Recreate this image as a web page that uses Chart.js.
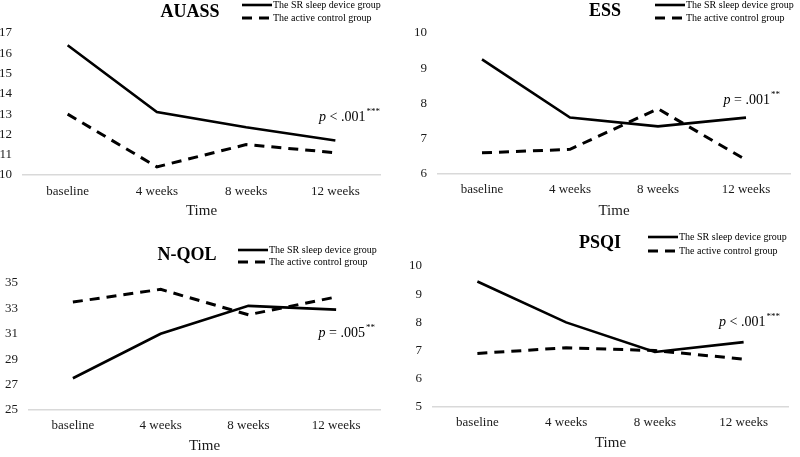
<!DOCTYPE html>
<html><head><meta charset="utf-8">
<script src="https://cdn.jsdelivr.net/npm/chart.js@4/dist/chart.umd.min.js"></script>
<style>
html,body{margin:0;padding:0;background:#fff;}
#wrap{position:relative;width:800px;height:457px;overflow:hidden;background:#fff;}
.panel{position:absolute;}
canvas{display:block;}
</style></head><body>
<div id="wrap">
<div class="panel" style="left:0;top:0;"><canvas id="c1" width="400" height="228" style="width:400px;height:228px"></canvas></div>
<div class="panel" style="left:400px;top:0;"><canvas id="c2" width="400" height="228" style="width:400px;height:228px"></canvas></div>
<div class="panel" style="left:0;top:228px;"><canvas id="c3" width="400" height="229" style="width:400px;height:229px"></canvas></div>
<div class="panel" style="left:400px;top:228px;"><canvas id="c4" width="400" height="229" style="width:400px;height:229px"></canvas></div>
</div>
<script>
// ---- data ----
const categories = ['baseline', '4 weeks', '8 weeks', '12 weeks'];
const seriesNames = ['The SR sleep device group', 'The active control group'];

const auassSR   = [16.4, 13.1, 12.35, 11.7];
const auassCtrl = [13.0, 10.4, 11.5, 11.1];
const auassTicks = [10, 17, 1];

const essSR   = [9.25, 7.6, 7.35, 7.6];
const essCtrl = [6.6, 6.7, 7.85, 6.4];
const essTicks = [6, 10, 1];

const nqolSR   = [27.5, 31.0, 33.2, 32.9];
const nqolCtrl = [33.5, 34.5, 32.5, 33.9];
const nqolTicks = [25, 35, 2];

const psqiSR   = [9.45, 8.0, 6.95, 7.3];
const psqiCtrl = [6.9, 7.1, 7.0, 6.7];
const psqiTicks = [5, 10, 1];

const titles = ['AUASS', 'ESS', 'N-QOL', 'PSQI'];
const pTexts = [' < .001', ' = .001', ' = .005', ' < .001'];
const pStars = ['***', '**', '**', '***'];
const xTitle = 'Time';

// ---- layout / style ----
const SERIF = '"Liberation Serif", "Times New Roman", serif';
const panels = [
  {id:'c1', sr:auassSR, ctrl:auassCtrl, ticks:auassTicks, t:0, W:400, H:228,
   area:{left:23, right:380, top:33, bottom:175}, titleXY:[190,12], legend:[242,5,18], pXY:[380,117], xTitlePad:8, xTickPad:9},
  {id:'c2', sr:essSR, ctrl:essCtrl, ticks:essTicks, t:1, W:400, H:228,
   area:{left:38, right:390, top:33, bottom:174}, titleXY:[205,11], legend:[255,5,18], pXY:[380,100], xTitlePad:8, xTickPad:8},
  {id:'c3', sr:nqolSR, ctrl:nqolCtrl, ticks:nqolTicks, t:2, W:400, H:229,
   area:{left:29, right:380, top:55, bottom:182}, titleXY:[187,27], legend:[238,22,34], pXY:[375,105], xTitlePad:2, xTickPad:8},
  {id:'c4', sr:psqiSR, ctrl:psqiCtrl, ticks:psqiTicks, t:3, W:400, H:229,
   area:{left:33, right:388, top:38, bottom:179}, titleXY:[200,15], legend:[248,9,23], pXY:[380,94], xTitlePad:5, xTickPad:8}
];

const decor = {
  id: 'decor',
  afterDraw(chart, args, o) {
    const ctx = chart.ctx;
    ctx.save();
    ctx.fillStyle = '#000';
    // title
    ctx.font = 'bold 18px ' + SERIF;
    ctx.textAlign = 'center';
    ctx.textBaseline = 'middle';
    ctx.fillText(o.title, o.titleXY[0], o.titleXY[1]);
    // legend
    chart.data.datasets.forEach((ds, i) => {
      const y = o.legend[i + 1];
      const x0 = o.legend[0];
      ctx.beginPath();
      ctx.setLineDash(ds.borderDash || []);
      ctx.lineWidth = ds.borderWidth;
      ctx.strokeStyle = ds.borderColor;
      ctx.lineCap = 'butt';
      ctx.moveTo(x0, y);
      ctx.lineTo(x0 + 30, y);
      ctx.stroke();
      ctx.setLineDash([]);
      ctx.font = '10px ' + SERIF;
      ctx.textAlign = 'left';
      ctx.fillText(ds.label, x0 + 31, y);
    });
    // p-value annotation
    const fP = 'italic 14px ' + SERIF, fM = '14px ' + SERIF, fS = '9px ' + SERIF;
    ctx.font = fP; const wP = ctx.measureText('p').width;
    ctx.font = fM; const wM = ctx.measureText(o.pText).width;
    ctx.font = fS; const wS = ctx.measureText(o.pStars).width;
    let x = o.pXY[0] - (wP + wM + wS + 1);
    const y = o.pXY[1];
    ctx.textAlign = 'left';
    ctx.textBaseline = 'middle';
    ctx.font = fP; ctx.fillText('p', x, y); x += wP;
    ctx.font = fM; ctx.fillText(o.pText, x, y); x += wM + 1;
    ctx.font = fS; ctx.fillText(o.pStars, x, y - 5);
    ctx.restore();
  }
};

panels.forEach(p => {
  const a = p.area;
  new Chart(document.getElementById(p.id), {
    type: 'line',
    data: {
      labels: categories,
      datasets: [
        {label: seriesNames[0], data: p.sr, borderColor: '#000', borderWidth: 2.6,
         pointRadius: 0, tension: 0, fill: false, borderCapStyle: 'butt'},
        {label: seriesNames[1], data: p.ctrl, borderColor: '#000', borderWidth: 3,
         borderDash: [10, 7], pointRadius: 0, tension: 0, fill: false, borderCapStyle: 'butt'}
      ]
    },
    options: {
      responsive: false,
      animation: false,
      devicePixelRatio: 1,
      layout: {padding: {left: 0, top: a.top, right: p.W - a.right, bottom: 0}},
      plugins: {
        legend: {display: false},
        tooltip: {enabled: false},
        title: {display: false},
        decor: {title: titles[p.t], titleXY: p.titleXY, legend: p.legend,
                pText: pTexts[p.t], pStars: pStars[p.t], pXY: p.pXY}
      },
      scales: {
        x: {
          offset: true,
          grid: {display: false, drawTicks: false},
          border: {display: true, color: '#d9d9d9', width: 1.5},
          ticks: {color: '#1a1a1a', font: {family: SERIF, size: 13}, padding: p.xTickPad, maxRotation: 0, autoSkip: false},
          title: {display: true, text: xTitle, color: '#1a1a1a', font: {family: SERIF, size: 15},
                  padding: {top: 0, bottom: p.xTitlePad}},
          afterFit: s => { s.height = p.H - a.bottom; }
        },
        y: {
          min: p.ticks[0], max: p.ticks[1],
          grid: {display: false, drawTicks: false},
          border: {display: false},
          ticks: {stepSize: p.ticks[2], color: '#1a1a1a', font: {family: SERIF, size: 13}, padding: 11},
          afterFit: s => { s.width = a.left; }
        }
      }
    },
    plugins: [decor]
  });
});
</script>
</body></html>
